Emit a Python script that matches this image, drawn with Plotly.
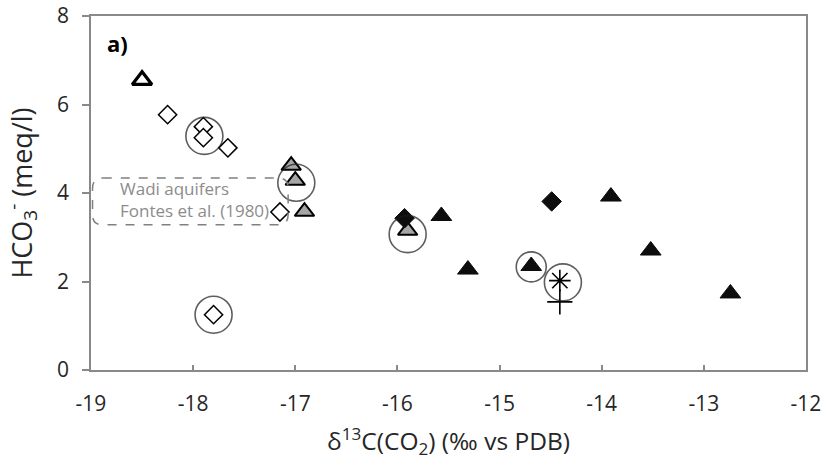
import plotly.graph_objects as go

# ---- data ----
x_open_tri = [-18.50]
y_open_tri = [6.55]

x_open_dia = [-18.25, -17.90, -17.90, -17.66, -17.15, -17.80]
y_open_dia = [5.77, 5.50, 5.25, 5.02, 3.57, 1.25]

x_gray_tri = [-17.04, -17.00, -16.91, -15.90]
y_gray_tri = [4.62, 4.28, 3.58, 3.15]

x_black_dia = [-15.93, -14.49]
y_black_dia = [3.43, 3.81]

x_black_tri = [-15.57, -15.31, -14.69, -13.91, -13.52, -12.74]
y_black_tri = [3.48, 2.27, 2.35, 3.92, 2.70, 1.73]

x_star = [-14.41]
y_star = [2.02]

x_plus = [-14.41]
y_plus = [1.54]

x_circle = [-17.89, -16.99, -17.80, -15.90, -14.69, -14.38]
y_circle = [5.29, 4.23, 1.25, 3.07, 2.33, 1.98]
s_circle = [37, 37, 37, 37, 30, 37]

x_ticks = [-19, -18, -17, -16, -15, -14, -13, -12]
y_ticks = [0, 2, 4, 6, 8]

box_x = [-18.985, -17.07]
box_y = [3.28, 4.34]

FONT = "Open Sans"
AX = "#898989"
TXT = "#262626"

fig = go.Figure()

fig.add_trace(go.Scatter(x=x_open_dia, y=y_open_dia, mode="markers",
    marker=dict(symbol="diamond", size=14, color="white",
                line=dict(color="black", width=1.5))))
fig.add_trace(go.Scatter(x=x_gray_tri, y=y_gray_tri, mode="markers",
    marker=dict(symbol="triangle-up", size=17, color="#a6a6a6",
                line=dict(color="black", width=2))))
fig.add_trace(go.Scatter(x=x_black_dia, y=y_black_dia, mode="markers",
    marker=dict(symbol="diamond", size=15, color="#0d0d0d",
                line=dict(color="#0d0d0d", width=1))))
fig.add_trace(go.Scatter(x=x_black_tri, y=y_black_tri, mode="markers",
    marker=dict(symbol="triangle-up", size=18, color="#0d0d0d",
                line=dict(color="#0d0d0d", width=1))))
fig.add_trace(go.Scatter(x=x_open_tri, y=y_open_tri, mode="markers",
    marker=dict(symbol="triangle-up", size=17, color="white",
                line=dict(color="black", width=3.2))))
fig.add_trace(go.Scatter(x=x_star, y=y_star, mode="markers",
    marker=dict(symbol="asterisk-open", size=18, color="black",
                line=dict(color="black", width=1.6))))
fig.add_trace(go.Scatter(x=x_plus, y=y_plus, mode="markers",
    marker=dict(symbol="cross-thin-open", size=18, color="black",
                line=dict(color="black", width=1.6))))
fig.add_trace(go.Scatter(x=x_circle, y=y_circle, mode="markers",
    marker=dict(symbol="circle-open", size=s_circle, color="#1a1a1a",
                line=dict(color="#1a1a1a", width=1.6))))

# rounded dashed box around the "Wadi aquifers" label
x0, x1 = box_x
y0, y1 = box_y
rx, ry = 0.1, 0.23
path = (f"M{x0+rx},{y1} L{x1-rx},{y1} Q{x1},{y1} {x1},{y1-ry} "
        f"L{x1},{y0+ry} Q{x1},{y0} {x1-rx},{y0} L{x0+rx},{y0} "
        f"Q{x0},{y0} {x0},{y0+ry} L{x0},{y1-ry} Q{x0},{y1} {x0+rx},{y1} Z")
fig.add_shape(type="path", path=path, xref="x", yref="y",
              line=dict(color="#808080", width=1.5, dash="dash"))

fig.add_annotation(x=-18.74, y=4.11, xref="x", yref="y", text="Wadi aquifers",
                   showarrow=False, xanchor="left", yanchor="middle",
                   font=dict(family=FONT, size=17, color="#8c8c8c"))
fig.add_annotation(x=-18.74, y=3.60, xref="x", yref="y", text="Fontes et al. (1980)",
                   showarrow=False, xanchor="left", yanchor="middle",
                   font=dict(family=FONT, size=17, color="#8c8c8c"))
fig.add_annotation(x=-18.86, y=7.4, xref="x", yref="y", text="<b>a)</b>",
                   showarrow=False, xanchor="left", yanchor="middle",
                   font=dict(family=FONT, size=22, color="black"))

fig.update_layout(
    width=827, height=466,
    margin=dict(l=91, r=21, t=16, b=96),
    paper_bgcolor="white", plot_bgcolor="white",
    showlegend=False,
    font=dict(family=FONT, size=21, color=TXT),
)
fig.update_xaxes(range=[-19, -12], tickvals=x_ticks, ticktext=[str(v) for v in x_ticks],
                 showgrid=False, zeroline=False, automargin=False,
                 showline=True, mirror=True, linecolor=AX, linewidth=1.5,
                 ticks="inside", ticklen=5, tickcolor=AX, tickwidth=1.5,
                 ticklabelstandoff=14, tickfont=dict(family=FONT, size=21, color=TXT),
                 title=dict(text="δ<sup>13</sup>C(CO<sub>2</sub>) (‰ vs PDB)",
                            font=dict(family=FONT, size=24.5, color=TXT),
                            standoff=17))
fig.update_yaxes(range=[0, 8], tickvals=y_ticks, ticktext=[str(v) for v in y_ticks],
                 showgrid=False, zeroline=False, automargin=False,
                 showline=True, mirror=True, linecolor=AX, linewidth=1.5,
                 ticks="outside", ticklen=7, tickcolor=AX, tickwidth=1.5,
                 ticklabelstandoff=9, tickfont=dict(family=FONT, size=21, color=TXT),
                 title=dict(text="HCO<sub>3</sub><sup>-</sup> (meq/l)",
                            font=dict(family=FONT, size=27, color=TXT),
                            standoff=17))

# remove the browser's default 8px page margin so the figure sits at the corner
fig.write_html("out.html", config={"displayModeBar": False},
               post_script="document.body.style.margin='0';document.body.style.overflow='hidden';")
